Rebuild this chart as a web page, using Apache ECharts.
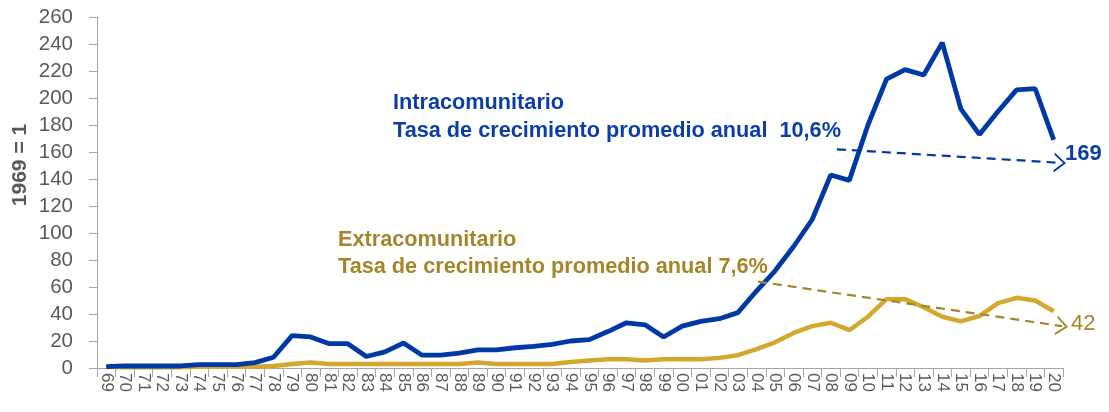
<!DOCTYPE html>
<html>
<head>
<meta charset="utf-8">
<script src="https://cdn.jsdelivr.net/npm/echarts@6/dist/echarts.min.js"></script>
<style>
  html, body { margin: 0; padding: 0; background: #fff; }
  #chart { width: 1109px; height: 412px; }
</style>
</head>
<body>
<div id="chart"></div>
<script>
// años 1969-2020
var years = ['69','70','71','72','73','74','75','76','77','78','79',
  '80','81','82','83','84','85','86','87','88','89',
  '90','91','92','93','94','95','96','97','98','99',
  '00','01','02','03','04','05','06','07','08','09',
  '10','11','12','13','14','15','16','17','18','19','20']

var intra = [1, 1.5, 1.5, 1.5, 1.5, 2.5, 2.5, 2.5, 4, 8, 24,
  23, 18, 18, 8.5, 12, 18.5, 9.5, 9.5, 11, 13.5,
  13.5, 15, 16, 17.5, 20, 21, 27, 33.5, 32, 23,
  31, 34.5, 36.5, 41, 57, 72, 90, 110, 143, 139,
  180, 214, 221, 217, 241, 192, 173, 190, 206, 207, 169]

var extra = [1, 0.5, 0.5, 0.5, 0.5, 1, 1, 1, 1, 1.5, 3,
  4, 3, 3, 3, 3, 3, 3, 3, 3, 4,
  3, 3, 3, 3, 4.5, 5.5, 6.5, 6.5, 5.5, 6.5,
  6.5, 6.5, 7.5, 9.5, 14, 19, 26, 31, 33.5, 28,
  38, 51, 51, 45, 38, 34.5, 38.5, 48, 52, 50, 42]

// flechas de tendencia (posición de categoría, valor)
var intraTrend = [[39.33, 162], [51.34, 152]]
var extraTrend = [[35.08, 64], [51.45, 31]]

var yTicks = { min: 0, max: 260, interval: 20 }

var BLUE = '#0039A6'
var BLUE_TXT = '#0B3EA6'
var GOLD = '#D4A82E'
var GOLD_TXT = '#A5852A'
var GREY = '#595959'

var chevron = 'path://M0,100 L50,0 L100,100 L88,100 L50,24 L12,100 Z'

var chart = echarts.init(document.getElementById('chart'))

function trendLine(pts, color) {
  return {
    silent: true,
    symbol: ['none', chevron],
    symbolSize: [20, 12],
    label: { show: false },
    lineStyle: { color: color, width: 2.2, type: [9, 6] },
    data: [[{ coord: pts[0] }, { coord: pts[1] }]]
  }
}

var options = {
  animation: false,
  grid: { left: 97, right: 46, top: 17, bottom: 44, outerBoundsMode: 'none', containLabel: false },
  xAxis: [
    {
      type: 'category',
      data: years,
      boundaryGap: true,
      axisLine: { lineStyle: { color: '#A6A6A6', width: 1 } },
      axisTick: { show: true, interval: 0, length: 9, lineStyle: { color: '#A6A6A6' } },
      axisLabel: {
        interval: 0,
        rotate: -90,
        margin: 5,
        color: GREY,
        fontFamily: 'Liberation Sans',
        fontSize: 17
      }
    },
    {
      type: 'value',
      min: -0.5,
      max: 51.5,
      show: false
    }
  ],
  yAxis: {
    type: 'value',
    min: yTicks.min,
    max: yTicks.max,
    interval: yTicks.interval,
    splitLine: { show: false },
    axisLine: { show: true, onZero: false, lineStyle: { color: '#A6A6A6', width: 1 } },
    axisTick: { show: true, length: 8, lineStyle: { color: '#A6A6A6' } },
    axisLabel: {
      margin: 24,
      color: GREY,
      fontFamily: 'Liberation Sans',
      fontSize: 20.5
    }
  },
  series: [
    {
      name: 'Extracomunitario',
      type: 'line',
      data: extra,
      symbol: 'none',
      lineStyle: { color: GOLD, width: 4.5 },
      z: 2
    },
    {
      name: 'Intracomunitario',
      type: 'line',
      data: intra,
      symbol: 'none',
      lineStyle: { color: BLUE, width: 4.8 },
      z: 3
    },
    {
      type: 'line',
      xAxisIndex: 1,
      data: [],
      markLine: trendLine(intraTrend, BLUE),
      z: 4
    },
    {
      type: 'line',
      xAxisIndex: 1,
      data: [],
      markLine: trendLine(extraTrend, '#A5852A'),
      z: 4
    }
  ],
  graphic: [
    {
      type: 'text', left: 393, top: 89,
      style: {
        text: 'Intracomunitario\nTasa de crecimiento promedio anual  10,6%',
        fill: BLUE_TXT, font: 'bold 21.7px "Liberation Sans"', lineHeight: 28
      }
    },
    {
      type: 'text', left: 338, top: 227,
      style: {
        text: 'Extracomunitario\nTasa de crecimiento promedio anual 7,6%',
        fill: GOLD_TXT, font: 'bold 21.7px "Liberation Sans"', lineHeight: 27
      }
    },
    {
      type: 'text', left: 1065, top: 143,
      style: {
        text: String(intra[intra.length - 1]),
        fill: BLUE_TXT, font: 'bold 22px "Liberation Sans"'
      }
    },
    {
      type: 'text', left: 1071, top: 313,
      style: {
        text: String(extra[extra.length - 1]),
        fill: GOLD_TXT, font: '22px "Liberation Sans"'
      }
    },
    {
      type: 'text', x: 20, y: 165, rotation: Math.PI / 2,
      style: {
        text: '1969 = 1',
        fill: GREY, font: 'bold 21px "Liberation Sans"',
        align: 'center', verticalAlign: 'middle'
      }
    }
  ]
}

chart.setOption(options)
</script>
</body>
</html>
